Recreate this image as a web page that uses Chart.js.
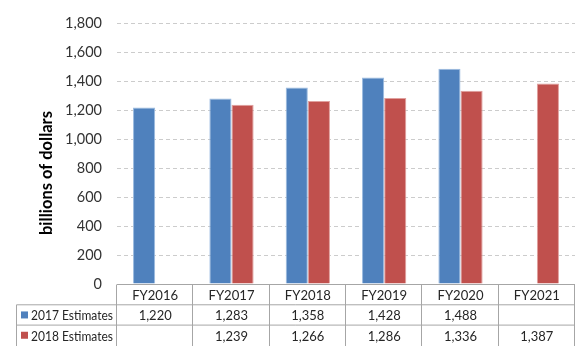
<!DOCTYPE html>
<html>
<head>
<meta charset="utf-8">
<script src="https://cdn.jsdelivr.net/npm/chart.js@4/dist/chart.umd.min.js"></script>
<style>
  body { margin: 0; background: #fff; }
  #wrap { width: 576px; height: 346px; position: relative; }
</style>
</head>
<body>
<div id="wrap"><canvas id="myChart"></canvas></div>
<script>
// values
let years = ['FY2016', 'FY2017', 'FY2018', 'FY2019', 'FY2020', 'FY2021'];
let est2017 = [1220, 1283, 1358, 1428, 1488, null];
let est2018 = [null, 1239, 1266, 1286, 1336, 1387];
let seriesNames = ['2017 Estimates', '2018 Estimates'];
let yTitle = 'billions of dollars';

let fmt = function (v) {
    return v == null ? '' : v.toLocaleString('en-US');
}

// Excel-style data table under the plot, plus the axis title
let dataTable = {
    id: 'dataTable',
    afterDraw: function (chart) {
        let ctx = chart.ctx;
        let area = chart.chartArea;
        let xs = chart.scales.x;
        let n = years.length;
        let colW = (area.right - area.left) / n;
        let rowH = 20.3;
        let top = area.bottom + 0.5;
        let labelLeft = 16.5;

        ctx.save();
        ctx.setLineDash([]);
        ctx.strokeStyle = '#a6a6a6';
        ctx.lineWidth = 1;
        ctx.beginPath();
        // horizontal rules
        ctx.moveTo(area.left, top); ctx.lineTo(area.right, top);
        ctx.moveTo(labelLeft, top + rowH); ctx.lineTo(area.right, top + rowH);
        ctx.moveTo(labelLeft, top + rowH * 2); ctx.lineTo(area.right, top + rowH * 2);
        // vertical rules
        ctx.moveTo(labelLeft, top + rowH); ctx.lineTo(labelLeft, 346);
        for (let i = 0; i <= n; i++) {
            let x = Math.round(area.left + colW * i) - 0.5;
            if (i === n) x = area.right - 0.5;
            ctx.moveTo(x, top); ctx.lineTo(x, 346);
        }
        ctx.stroke();

        ctx.fillStyle = '#262626';
        ctx.font = '13.5px Lato';
        ctx.textAlign = 'center';
        ctx.textBaseline = 'middle';
        years.forEach((y, i) => {
            let cx = xs.getPixelForValue(i);
            ctx.fillText(y, cx, top + rowH / 2 + 1, 46);
            ctx.fillText(fmt(est2017[i]), cx, top + rowH * 1.5 + 1, 33);
            ctx.fillText(fmt(est2018[i]), cx, top + rowH * 2.5 + 1, 33);
        });

        // row labels with legend keys
        chart.data.datasets.forEach((ds, j) => {
            let cy = top + rowH * (1.5 + j);
            ctx.fillStyle = ds.backgroundColor;
            ctx.fillRect(21, cy - 3.5, 7, 7);
            ctx.fillStyle = '#262626';
            ctx.textAlign = 'left';
            ctx.fillText(seriesNames[j], 31, cy + 1, 82);
        });

        // y axis title, centred on the whole chart height
        ctx.translate(47, 173);
        ctx.rotate(-Math.PI / 2);
        ctx.fillStyle = '#000';
        ctx.font = 'bold 16.5px Lato';
        ctx.textAlign = 'center';
        ctx.fillText(yTitle, 0, 0, 141);
        ctx.restore();
    }
};

let ctx = document.getElementById('myChart').getContext('2d');

let chart = new Chart(ctx, {
    type: 'bar',
    data: {
        labels: years,
        datasets: [{
            label: seriesNames[0],
            data: est2017,
            backgroundColor: '#4f81bd',
            borderColor: '#9bbbe0',
            borderWidth: 1
        }, {
            label: seriesNames[1],
            data: est2018,
            backgroundColor: '#c0504d',
            borderColor: '#e0a09e',
            borderWidth: 1
        }]
    },
    options: {
        responsive: true,
        maintainAspectRatio: false,
        animation: false,
        layout: { padding: { left: 0, right: 1, top: 10, bottom: 62 } },
        datasets: {
            bar: { categoryPercentage: 0.58, barPercentage: 1 }
        },
        plugins: {
            legend: { display: false },
            tooltip: { enabled: false }
        },
        scales: {
            x: { display: false },
            y: {
                min: 0,
                max: 1800,
                afterFit: function (scale) { scale.width = 117; },
                ticks: {
                    stepSize: 200,
                    padding: 15,
                    color: '#333',
                    font: { family: 'Lato', size: 14.5 }
                },
                grid: {
                    drawTicks: false,
                    color: '#cccccc',
                    lineWidth: 1
                },
                border: { display: false, dash: [4, 3] }
            }
        }
    },
    plugins: [dataTable]
});
</script>
</body>
</html>
